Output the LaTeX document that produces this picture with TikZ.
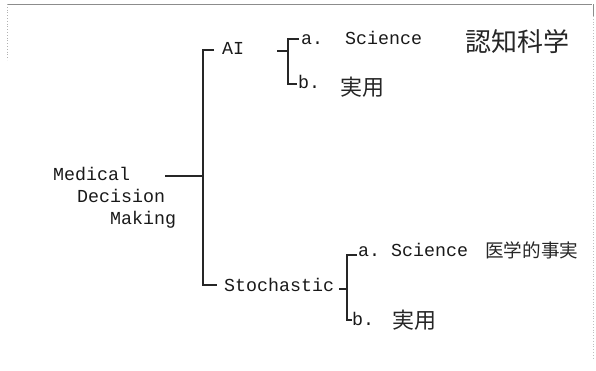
\documentclass[tikz,border=0pt]{standalone}
\usepackage{fontspec}
\setmonofont{Liberation Mono}
\newfontfamily\jpfont{Noto Sans CJK JP}
\begin{document}
\begin{tikzpicture}[x=1pt,y=-1pt,
  tw/.style={inner sep=0pt, anchor=base west,
    font=\ttfamily\fontsize{18.3}{20}\selectfont, text=black!90},
  hand/.style={inner sep=0pt, anchor=west, text=black!85},
  branch/.style={draw=black!85, line width=1.1pt},
  frameline/.style={draw=black!45, line width=0.8pt}]
\useasboundingbox (0,0) rectangle (596,370);

% page frame remnants
\draw[frameline] (7,4) -- (592,4);
\draw[frameline] (593,4) -- (593,16);
\draw[frameline, dotted, draw=black!25] (593,16) -- (593,360);
\draw[frameline, dotted, draw=black!30] (7,4) -- (7,60);

% root
\node[tw] (med1) at (53,180) {Medical};
\node[tw] (med2) at (77,202) {Decision};
\node[tw] (med3) at (110,224) {Making};

% first level
\node[tw] (ai) at (222,54) {AI};
\node[tw] (st) at (224,291) {Stochastic};

% AI branch
\node[tw] (aia) at (301,44) {a.\ \ Science};
\node[hand, font=\jpfont\fontsize{26}{28}\selectfont] (aiaj) at (465,42) {認知科学};
\node[tw] (aib) at (298,88) {b.};
\node[hand, font=\jpfont\fontsize{22}{24}\selectfont] (aibj) at (340,87) {実用};

% Stochastic branch
\node[tw] (sta) at (358,256) {a.\ Science};
\node[hand, font=\jpfont\fontsize{18.6}{20}\selectfont] (staj) at (485,250) {医学的事実};
\node[tw] (stb) at (352,325) {b.};
\node[hand, font=\jpfont\fontsize{22}{24}\selectfont] (stbj) at (392,320) {実用};

% junctions and line ends
\coordinate (rootEnd) at (165,176);
\coordinate (rootJ) at (203,176);
\coordinate (aiIn) at (214,50);
\coordinate (stIn) at (217,285);
\coordinate (aiOut) at (277,51);
\coordinate (aiJ) at (288,51);
\coordinate (aiaIn) at (299,39);
\coordinate (aibIn) at (297,84);
\coordinate (stOut) at (339,289);
\coordinate (stJ) at (347,289);
\coordinate (staIn) at (357,255);
\coordinate (stbIn) at (352,320);

% connectors
\draw[branch] (rootEnd) -- (rootJ);
\draw[branch] (aiIn) -| (rootJ) |- (stIn);
\draw[branch] (aiOut) -- (aiJ);
\draw[branch] (aiaIn) -| (aiJ) |- (aibIn);
\draw[branch] (stOut) -- (stJ);
\draw[branch] (staIn) -| (stJ) |- (stbIn);
\end{tikzpicture}
\end{document}
